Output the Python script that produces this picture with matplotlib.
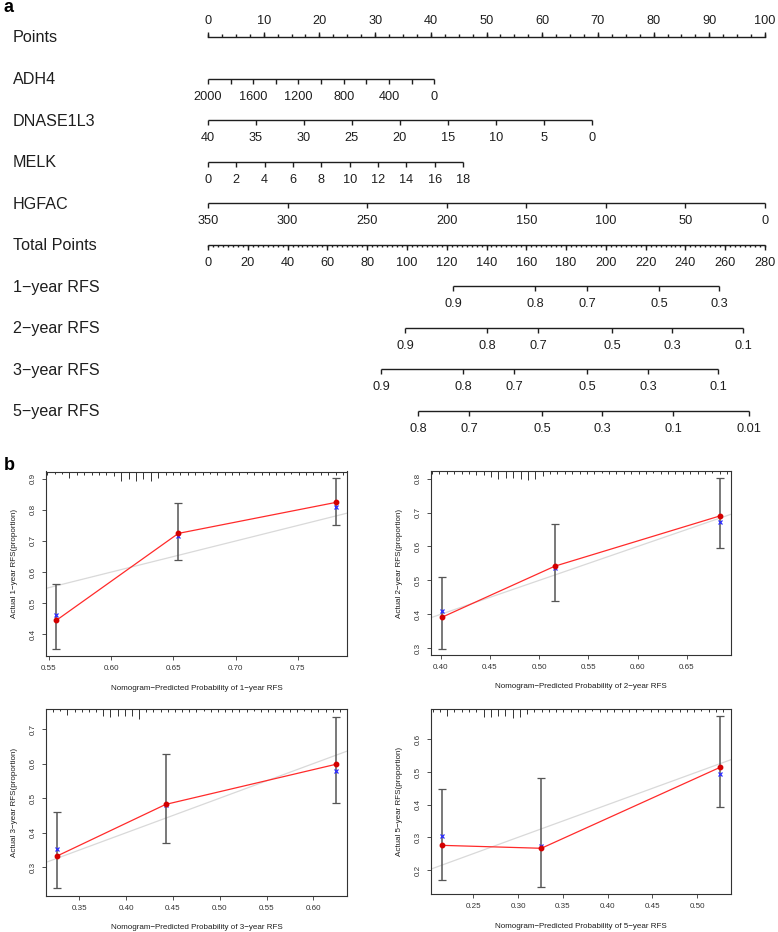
import numpy as np
import matplotlib.pyplot as plt

plt.rcParams["font.family"] = ["Liberation Sans", "DejaVu Sans"]

# ---- nomogram scales ----
points_labels = [0, 10, 20, 30, 40, 50, 60, 70, 80, 90, 100]
adh4_values = [2000, 1800, 1600, 1400, 1200, 1000, 800, 600, 400, 200, 0]
adh4_labels = [2000, 1600, 1200, 800, 400, 0]
adh4_max_points = 40.6
dnase_values = [40, 35, 30, 25, 20, 15, 10, 5, 0]
dnase_max_points = 68.9
melk_values = [0, 2, 4, 6, 8, 10, 12, 14, 16, 18]
melk_max_points = 45.8
hgfac_values = [350, 300, 250, 200, 150, 100, 50, 0]
hgfac_max_points = 100.0
total_labels = [0, 20, 40, 60, 80, 100, 120, 140, 160, 180, 200, 220, 240, 260, 280]
total_max = 280.0

row_names = ["Points", "ADH4", "DNASE1L3", "MELK", "HGFAC", "Total Points",
             "1\u2212year RFS", "2\u2212year RFS", "3\u2212year RFS", "5\u2212year RFS"]

rfs1_probs = ["0.9", "0.8", "0.7", "0.5", "0.3"]
rfs1_total = [123.2, 164.4, 190.5, 226.7, 256.9]
rfs2_probs = ["0.9", "0.8", "0.7", "0.5", "0.3", "0.1"]
rfs2_total = [99.0, 140.3, 165.9, 203.1, 233.3, 269.0]
rfs3_probs = ["0.9", "0.8", "0.7", "0.5", "0.3", "0.1"]
rfs3_total = [87.0, 128.2, 153.8, 190.5, 221.2, 256.4]
rfs5_probs = ["0.8", "0.7", "0.5", "0.3", "0.1", "0.01"]
rfs5_total = [105.6, 131.2, 167.9, 198.1, 233.8, 272.0]

# ---- calibration curves ----
years = ["1", "2", "3", "5"]
cal1_pred = [0.556, 0.654, 0.781]
cal1_obs = [0.445, 0.7245, 0.8245]
cal1_corr = [0.462, 0.716, 0.810]
cal1_lo = [0.352, 0.639, 0.752]
cal1_hi = [0.562, 0.8235, 0.903]

cal2_pred = [0.401, 0.516, 0.6836]
cal2_obs = [0.391, 0.542, 0.690]
cal2_corr = [0.4085, 0.5375, 0.673]
cal2_lo = [0.298, 0.438, 0.597]
cal2_hi = [0.511, 0.667, 0.801]

cal3_pred = [0.3262, 0.4423, 0.6242]
cal3_obs = [0.3327, 0.482, 0.598]
cal3_corr = [0.353, 0.481, 0.579]
cal3_lo = [0.239, 0.369, 0.486]
cal3_hi = [0.459, 0.629, 0.736]

cal5_pred = [0.2147, 0.326, 0.5253]
cal5_obs = [0.2755, 0.2665, 0.514]
cal5_corr = [0.304, 0.272, 0.4935]
cal5_lo = [0.169, 0.148, 0.394]
cal5_hi = [0.448, 0.483, 0.672]

# risk distribution rug along the top (tick lengths, px)
rug1_range = (0.5486, 0.7863)
rug1_len = [3, 2, 2, 6, 3, 3, 3, 3, 3, 4, 9, 7, 9, 7, 9, 6, 3, 3, 3, 3,
            3, 3, 2, 3, 3, 3, 3, 2, 3, 3, 3, 3, 3, 2, 3, 3, 3, 3, 3, 3, 3]
rug2_range = (0.3912, 0.691)
rug2_len = [3, 3, 3, 3, 3, 3, 4, 4, 6, 8, 7, 7, 8, 9, 8, 5, 3, 3, 3, 3,
            3, 3, 3, 2, 3, 3, 3, 3, 3, 3, 2, 3, 3, 3, 3, 3, 3, 3, 2, 3, 3]
rug3_range = (0.3219, 0.6284)
rug3_len = [3, 2, 6, 3, 3, 3, 3, 7, 8, 7, 7, 7, 10, 3, 3, 3, 3, 3, 3, 3,
            3, 2, 3, 3, 3, 3, 3, 3, 2, 3, 3, 3, 3, 3, 3, 2, 3, 3, 3, 3, 3]
rug5_range = (0.2047, 0.529)
rug5_len = [3, 3, 7, 3, 3, 3, 3, 8, 8, 7, 7, 9, 8, 5, 3, 3, 3, 3, 3, 3,
            3, 3, 2, 3, 3, 3, 3, 3, 3, 2, 3, 3, 3, 3, 3, 3, 3, 2, 3, 3, 3]

W, H = 778, 932
fig = plt.figure(figsize=(W / 100, H / 100), dpi=100)
ink = "#1e1e1e"

# ================= nomogram =================
px_per_row = 41.55
ax = fig.add_axes([0, 1 - 440 / H, 1, 440 / H])
ax.axis("off")
ax.set_xlim(-208 / 5.57, (W - 208) / 5.57)
ax.set_ylim((440 - 37) / px_per_row, -37 / px_per_row)
tk = 5 / px_per_row
tk_minor = 2.6 / px_per_row
lab_off = 18 / px_per_row
lw = 1.0
fs_tick = 9.2


def scale_row(row, pos, label_pos=None, labels=None, minor=None):
    ax.plot([min(pos), max(pos)], [row, row], color=ink, lw=lw, solid_capstyle="butt")
    ax.vlines(pos, row, row + tk, color=ink, lw=lw)
    if minor is not None:
        ax.vlines(minor, row, row + tk_minor, color=ink, lw=lw)
    if labels is None:
        labels, label_pos = pos, pos
    for p, t in zip(label_pos, labels):
        ax.text(p, row + lab_off, str(t), ha="center", va="center", fontsize=fs_tick, color=ink)


# Points
ax.plot([0, 100], [0, 0], color=ink, lw=lw)
ax.vlines(points_labels, 0, -tk, color=ink, lw=lw)
ax.vlines(np.arange(0, 100.1, 2.5), 0, -tk_minor, color=ink, lw=lw)
for p in points_labels:
    ax.text(p, -15.5 / px_per_row, str(p), ha="center", va="center", fontsize=fs_tick, color=ink)

adh4_pts = [(2000 - v) / 2000 * adh4_max_points for v in adh4_values]
adh4_lab_pts = [(2000 - v) / 2000 * adh4_max_points for v in adh4_labels]
scale_row(1, adh4_pts, adh4_lab_pts, adh4_labels)
scale_row(2, [(40 - v) / 40 * dnase_max_points for v in dnase_values],
          [(40 - v) / 40 * dnase_max_points for v in dnase_values], dnase_values)
scale_row(3, [v / 18 * melk_max_points for v in melk_values],
          [v / 18 * melk_max_points for v in melk_values], melk_values)
scale_row(4, [(350 - v) / 350 * hgfac_max_points for v in hgfac_values],
          [(350 - v) / 350 * hgfac_max_points for v in hgfac_values], hgfac_values)
tot_pts = [t / total_max * 100 for t in total_labels]
scale_row(5, tot_pts, tot_pts, total_labels,
          minor=np.arange(0, total_max + 0.1, 2.5) / total_max * 100)
for i, (probs, tots) in enumerate([(rfs1_probs, rfs1_total), (rfs2_probs, rfs2_total),
                                   (rfs3_probs, rfs3_total), (rfs5_probs, rfs5_total)]):
    p = [t / total_max * 100 for t in tots]
    scale_row(6 + i, p, p, probs)

for i, name in enumerate(row_names):
    ax.text(13 / W, i + 1 / px_per_row, name, transform=ax.get_yaxis_transform(), ha="left",
            va="center", fontsize=11.6, color=ink)

fig.text(4 / W, 1 - 8 / H, "a", fontsize=13, fontweight="bold", ha="left", va="center")
fig.text(4 / W, 1 - 466 / H, "b", fontsize=13, fontweight="bold", ha="left", va="center")

# ================= calibration plots =================
panels = [
    ((46, 347, 471.5, 656), (0.5476, 0.7895), (0.330, 0.9236),
     [0.55, 0.60, 0.65, 0.70, 0.75], [0.4, 0.5, 0.6, 0.7, 0.8, 0.9],
     cal1_pred, cal1_obs, cal1_corr, cal1_lo, cal1_hi, rug1_range, rug1_len),
    ((430.7, 730.7, 471, 655), (0.3898, 0.6947), (0.280, 0.8226),
     [0.40, 0.45, 0.50, 0.55, 0.60, 0.65], [0.3, 0.4, 0.5, 0.6, 0.7, 0.8],
     cal2_pred, cal2_obs, cal2_corr, cal2_lo, cal2_hi, rug2_range, rug2_len),
    ((46, 347, 709.3, 895.7), (0.3144, 0.636), (0.218, 0.757),
     [0.35, 0.40, 0.45, 0.50, 0.55, 0.60], [0.3, 0.4, 0.5, 0.6, 0.7],
     cal3_pred, cal3_obs, cal3_corr, cal3_lo, cal3_hi, rug3_range, rug3_len),
    ((430.7, 730.7, 708.7, 894), (0.2025, 0.5373), (0.1266, 0.6936),
     [0.25, 0.30, 0.35, 0.40, 0.45, 0.50], [0.2, 0.3, 0.4, 0.5, 0.6],
     cal5_pred, cal5_obs, cal5_corr, cal5_lo, cal5_hi, rug5_range, rug5_len),
]

fs_small = 5.8
for yr, (box, xl, yl, xt, yt, pred, obs, corr, lo, hi, rr, rl) in zip(years, panels):
    l, r, t, b = box
    cax = fig.add_axes([l / W, 1 - b / H, (r - l) / W, (b - t) / H])
    hpx = b - t
    cax.set_xlim(*xl)
    cax.set_ylim(*yl)
    # ideal line
    cax.plot(xl, xl, color="#d9d9d9", lw=0.9, zorder=1)
    # rug of predicted risk
    rx = np.linspace(rr[0], rr[1], len(rl))
    cax.vlines(rx, [1 - v / hpx for v in rl], 1, transform=cax.get_xaxis_transform(),
               color="#333333", lw=0.7, zorder=2)
    # error bars
    yerr = [np.array(obs) - np.array(lo), np.array(hi) - np.array(obs)]
    cax.errorbar(pred, obs, yerr=yerr, fmt="none", ecolor="#555555", elinewidth=1.1,
                 capsize=2.8, capthick=0.9, zorder=3)
    cax.plot(pred, obs, color="#ff2a2a", lw=0.9, zorder=4)
    cax.plot(pred, corr, ls="none", marker="x", ms=3.2, mew=0.9, color="#2b2bff", zorder=5)
    cax.plot(pred, obs, ls="none", marker="o", ms=3.2, color="#d40000", mec="#d40000", zorder=6)

    cax.set_xticks(xt)
    cax.set_xticklabels(["%.2f" % v for v in xt])
    cax.set_yticks(yt)
    cax.set_yticklabels(["%.1f" % v for v in yt], rotation=90, va="center")
    cax.tick_params(labelsize=fs_small, length=3, width=0.6, colors="#333333", pad=3.5)
    for s in cax.spines.values():
        s.set_linewidth(0.8)
        s.set_color("#333333")
    cax.text(0.5, -32 / hpx, "Nomogram\u2212Predicted Probability of %s\u2212year RFS" % yr,
             transform=cax.transAxes, ha="center", va="center", fontsize=fs_small, color=ink)
    cax.text(-31 / (r - l), 0.5, "Actual %s\u2212year RFS(proportion)" % yr,
             transform=cax.transAxes, ha="center", va="center", rotation=90,
             fontsize=fs_small, color=ink)

fig.savefig("out.png", dpi=100)
